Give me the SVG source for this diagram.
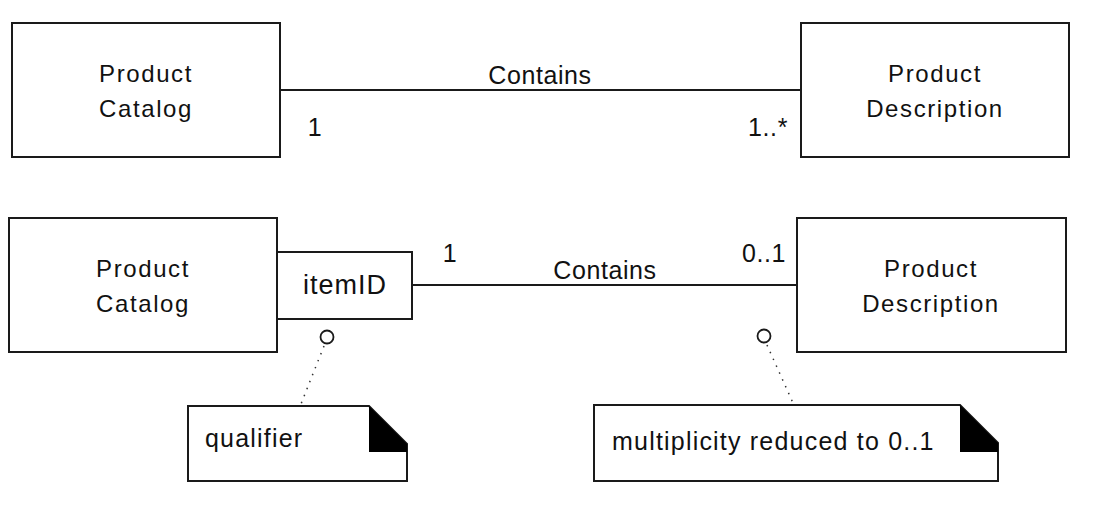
<svg xmlns="http://www.w3.org/2000/svg" width="1098" height="519" viewBox="0 0 1098 519">
<style>
.box{fill:#fff;stroke:#1a1a1a;stroke-width:2}
.ln{fill:none;stroke:#1a1a1a;stroke-width:2}
.dot{fill:none;stroke:#333;stroke-width:1.5;stroke-dasharray:1.5 6}
.t{font-family:"Liberation Sans",Arial,sans-serif;font-size:24px;fill:#111;text-anchor:middle;letter-spacing:1.6px}
.l{font-family:"Liberation Sans",Arial,sans-serif;font-size:25px;fill:#111;letter-spacing:0.6px}
.n{font-family:"Liberation Sans",Arial,sans-serif;font-size:25px;fill:#111;letter-spacing:1.2px}
</style>
<rect width="1098" height="519" fill="#fff"/>
<g id="connectors">
<line class="ln" x1="280" y1="90" x2="801" y2="90"/>
<line class="ln" x1="412" y1="285" x2="797" y2="285"/>
<line class="dot" x1="324" y1="346" x2="301" y2="404"/>
<line class="dot" x1="767" y1="345" x2="793" y2="403"/>
<text class="l" x="540" y="84" text-anchor="middle">Contains</text>
<text class="l" x="315" y="136" text-anchor="middle">1</text>
<text class="l" x="768" y="136" text-anchor="middle">1..*</text>
<text class="l" x="450" y="262" text-anchor="middle">1</text>
<text class="l" x="605" y="279" text-anchor="middle">Contains</text>
<text class="l" x="764" y="262" text-anchor="middle">0..1</text>
</g>
<g id="catalog1">
<rect class="box" x="12" y="23" width="268" height="134"/>
<text class="t" x="146" y="82">Product</text>
<text class="t" x="146" y="117">Catalog</text>
</g>
<g id="description1">
<rect class="box" x="801" y="23" width="268" height="134"/>
<text class="t" x="935" y="82">Product</text>
<text class="t" x="935" y="117">Description</text>
</g>
<g id="catalog2">
<rect class="box" x="9" y="218" width="268" height="134"/>
<text class="t" x="143" y="277">Product</text>
<text class="t" x="143" y="312">Catalog</text>
</g>
<g id="itemID">
<rect class="box" x="277" y="252" width="135" height="67"/>
<text class="t" x="345" y="294" style="font-size:27px;letter-spacing:1px">itemID</text>
<circle class="ln" cx="327" cy="337" r="6.5" style="stroke-width:1.8"/>
</g>
<g id="description2">
<rect class="box" x="797" y="218" width="269" height="134"/>
<text class="t" x="931" y="277">Product</text>
<text class="t" x="931" y="312">Description</text>
<circle class="ln" cx="764" cy="336" r="6.5" style="stroke-width:1.8"/>
</g>
<g id="note-qualifier">
<path class="box" d="M188,406 H369 L407,444 V481 H188 Z"/>
<polygon points="369,406 407,444 407,452 369,452" fill="#000"/>
<text class="n" x="205" y="447">qualifier</text>
</g>
<g id="note-multiplicity">
<path class="box" d="M594,405 H960 L998,443 V481 H594 Z"/>
<polygon points="960,405 998,443 998,452 960,452" fill="#000"/>
<text class="n" x="612" y="450">multiplicity reduced to 0..1</text>
</g>
</svg>
